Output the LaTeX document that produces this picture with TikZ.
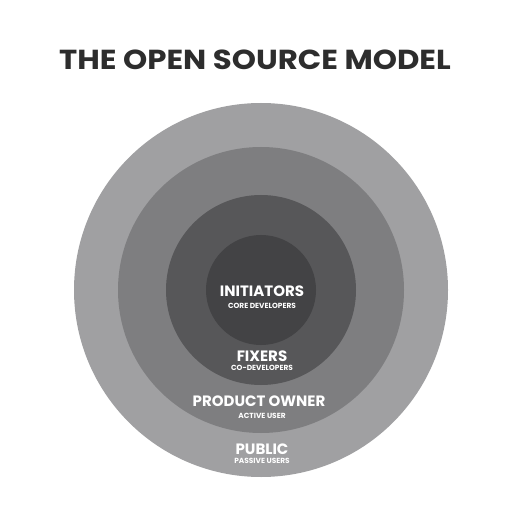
\documentclass[tikz,border=0pt]{standalone}
\usepackage{fontspec}
\setmainfont{Poppins}[BoldFont={* Bold}]
\definecolor{ringA}{RGB}{160,160,162}
\definecolor{ringB}{RGB}{126,126,128}
\definecolor{ringC}{RGB}{87,87,89}
\definecolor{ringD}{RGB}{67,67,69}
\definecolor{titlecol}{RGB}{45,45,45}
\tikzset{
  ring/.style={circle, draw=none, inner sep=0pt},
  big/.style={text=white, font=\bfseries\fontsize{15}{15}\selectfont, inner sep=0pt},
  small/.style={text=white, font=\bfseries\fontsize{7.4}{7.4}\selectfont, inner sep=0pt},
}
\begin{document}
\begin{tikzpicture}[x=1pt,y=-1pt]
\useasboundingbox (0,0) rectangle (527,521);
\fill[white] (0,0) rectangle (527,521);
\node[ring, fill=ringA, minimum size=374pt] (c1) at (261,290) {};
\node[ring, fill=ringB, minimum size=286pt] (c2) at (261,290) {};
\node[ring, fill=ringC, minimum size=190pt] (c3) at (261,290) {};
\node[ring, fill=ringD, minimum size=110pt] (c4) at (261,290) {};
\node[text=titlecol, font=\bfseries\fontsize{27.5}{27.5}\selectfont, inner sep=0pt, xscale=1.12] (title) at (255,60) {THE OPEN SOURCE MODEL};
\node[big] (ini) at (262,291) {INITIATORS};
\node[small] (inis) at (262,306) {CORE DEVELOPERS};
\node[big] (fix) at (262,356) {FIXERS};
\node[small] (fixs) at (262,368) {CO-DEVELOPERS};
\node[big] (po) at (259,401) {PRODUCT OWNER};
\node[small] (pos) at (262,416) {ACTIVE USER};
\node[big] (pub) at (262,449) {PUBLIC};
\node[small] (pubs) at (262,461) {PASSIVE USERS};
\end{tikzpicture}
\end{document}
